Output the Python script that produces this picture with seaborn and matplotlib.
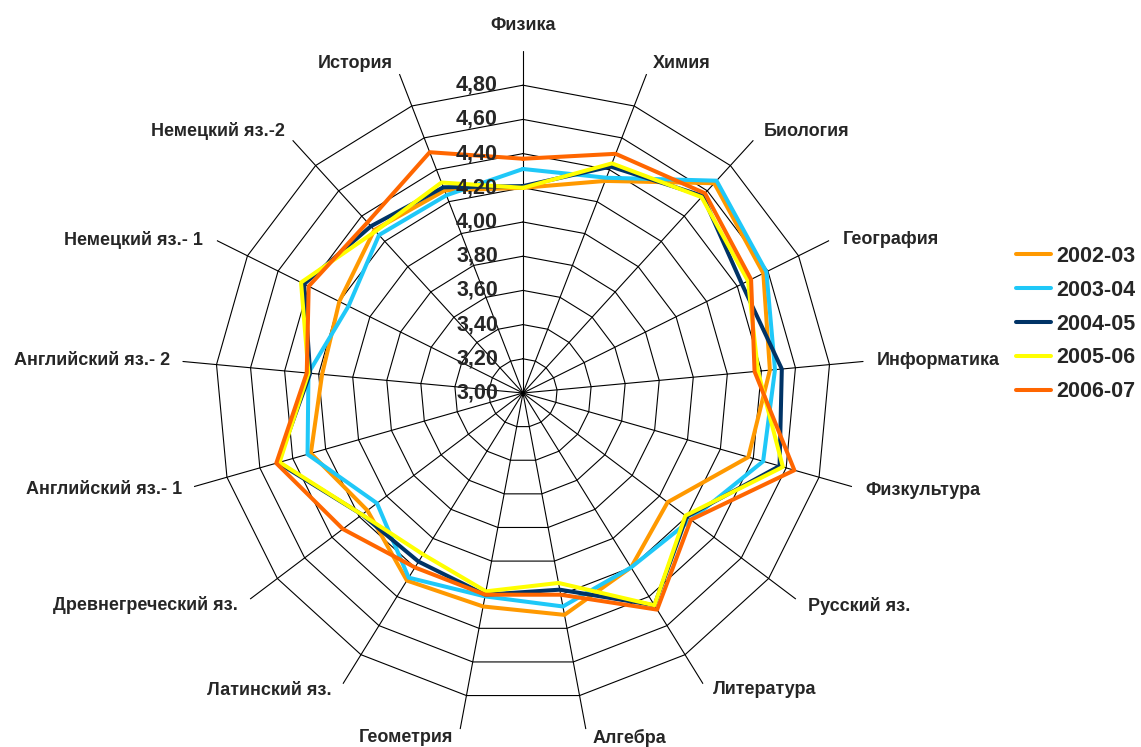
import numpy as np
import pandas as pd
import matplotlib
matplotlib.use('Agg')
import matplotlib.pyplot as plt
import seaborn as sns

# subjects, clockwise from the top
subjects = ['Физика', 'Химия', 'Биология', 'География', 'Информатика', 'Физкультура',
            'Русский яз.', 'Литература', 'Алгебра', 'Геометрия', 'Латинский яз.',
            'Древнегреческий яз.', 'Английский яз.- 1', 'Английский яз.- 2',
            'Немецкий яз.- 1', 'Немецкий яз.-2', 'История']

years = ['2002-03', '2003-04', '2004-05', '2005-06', '2006-07']

y2002 = [4.20, 4.33, 4.66, 4.57, 4.45, 4.37, 4.06, 4.20, 4.32, 4.27, 4.29, 4.14, 4.29, 4.18, 4.20, 4.29, 4.27]
y2003 = [4.31, 4.35, 4.68, 4.59, 4.48, 4.46, 4.23, 4.20, 4.27, 4.21, 4.27, 4.07, 4.31, 4.26, 4.14, 4.25, 4.24]
y2004 = [4.21, 4.42, 4.56, 4.43, 4.52, 4.56, 4.20, 4.46, 4.17, 4.20, 4.16, 4.18, 4.49, 4.25, 4.43, 4.32, 4.29]
y2005 = [4.20, 4.44, 4.55, 4.47, 4.38, 4.58, 4.19, 4.46, 4.13, 4.18, 4.11, 4.18, 4.48, 4.26, 4.45, 4.28, 4.32]
y2006 = [4.37, 4.50, 4.58, 4.49, 4.36, 4.65, 4.23, 4.49, 4.20, 4.20, 4.20, 4.32, 4.50, 4.27, 4.40, 4.35, 4.51]

ring_values = [3.2, 3.4, 3.6, 3.8, 4.0, 4.2, 4.4, 4.6, 4.8]
tick_values = [3.0, 3.2, 3.4, 3.6, 3.8, 4.0, 4.2, 4.4, 4.6, 4.8]

colors = ['#FF9900', '#1FC8F8', '#003366', '#FFFF00', '#FF6600']

sns.set_style('white')
plt.rcParams['font.family'] = ['Liberation Sans', 'DejaVu Sans']

n = len(subjects)
angles = np.arange(n) * 2 * np.pi / n
closed = np.append(angles, angles[0])

# long table, each polygon closed by repeating the first point
rows = []
for year, vals in zip(years, [y2002, y2003, y2004, y2005, y2006]):
    for k in range(n + 1):
        rows.append({'theta': closed[k], 'value': vals[k % n], 'year': year, 'k': k})
df = pd.DataFrame(rows)

fig = plt.figure(figsize=(11.41, 7.47), dpi=100)
ax = fig.add_axes([181 / 1141, 12 / 747, 684 / 1141, 684 / 747], projection='polar')
ax.set_theta_zero_location('N')
ax.set_theta_direction(-1)
ax.set_ylim(3, 5)
ax.axis('off')

# polygon grid
for r in ring_values:
    ax.plot(closed, [r] * (n + 1), color='black', lw=0.8, zorder=1)
for a in angles:
    ax.plot([a, a], [3, 5], color='black', lw=0.8, zorder=1)

sns.lineplot(data=df, x='theta', y='value', hue='year', hue_order=years, palette=colors,
             sort=False, estimator=None, units='year', lw=2.9, ax=ax, zorder=3)

# radial value labels along the top spoke
for v in tick_values:
    ax.annotate(f'{v:.2f}'.replace('.', ','), xy=(0, v), xytext=(-25, 0), textcoords='offset pixels',
                ha='right', va='center', fontsize=15.5, fontweight='bold', zorder=5)

# subject labels next to the spoke ends
offsets = [(0, 26), (6, 11), (10, 9), (14, 1), (13, 1), (13, -4), (12, -7), (10, -6), (7, -9),
           (-7, -8), (-11, -7), (-12, -6), (-12, -3), (-12, 1), (-14, 1), (-8, 9), (-7, 11)]
for i, (lab, off) in enumerate(zip(subjects, offsets)):
    if i == 0:
        ha = 'center'
    elif i <= 8:
        ha = 'left'
    else:
        ha = 'right'
    ax.annotate(lab, xy=(angles[i], 5), xytext=off, textcoords='offset pixels',
                ha=ha, va='center', fontsize=13, fontweight='bold', annotation_clip=False)

handles, labels = ax.get_legend_handles_labels()
ax.get_legend().remove()
fig.legend(handles, labels, loc='center left', bbox_to_anchor=(997 / 1141, 1 - 324 / 747),
           frameon=False, prop={'weight': 'bold', 'size': 15.5}, handlelength=1.6,
           handletextpad=0.25, labelspacing=0.6)

fig.savefig('out.png', dpi=100)
